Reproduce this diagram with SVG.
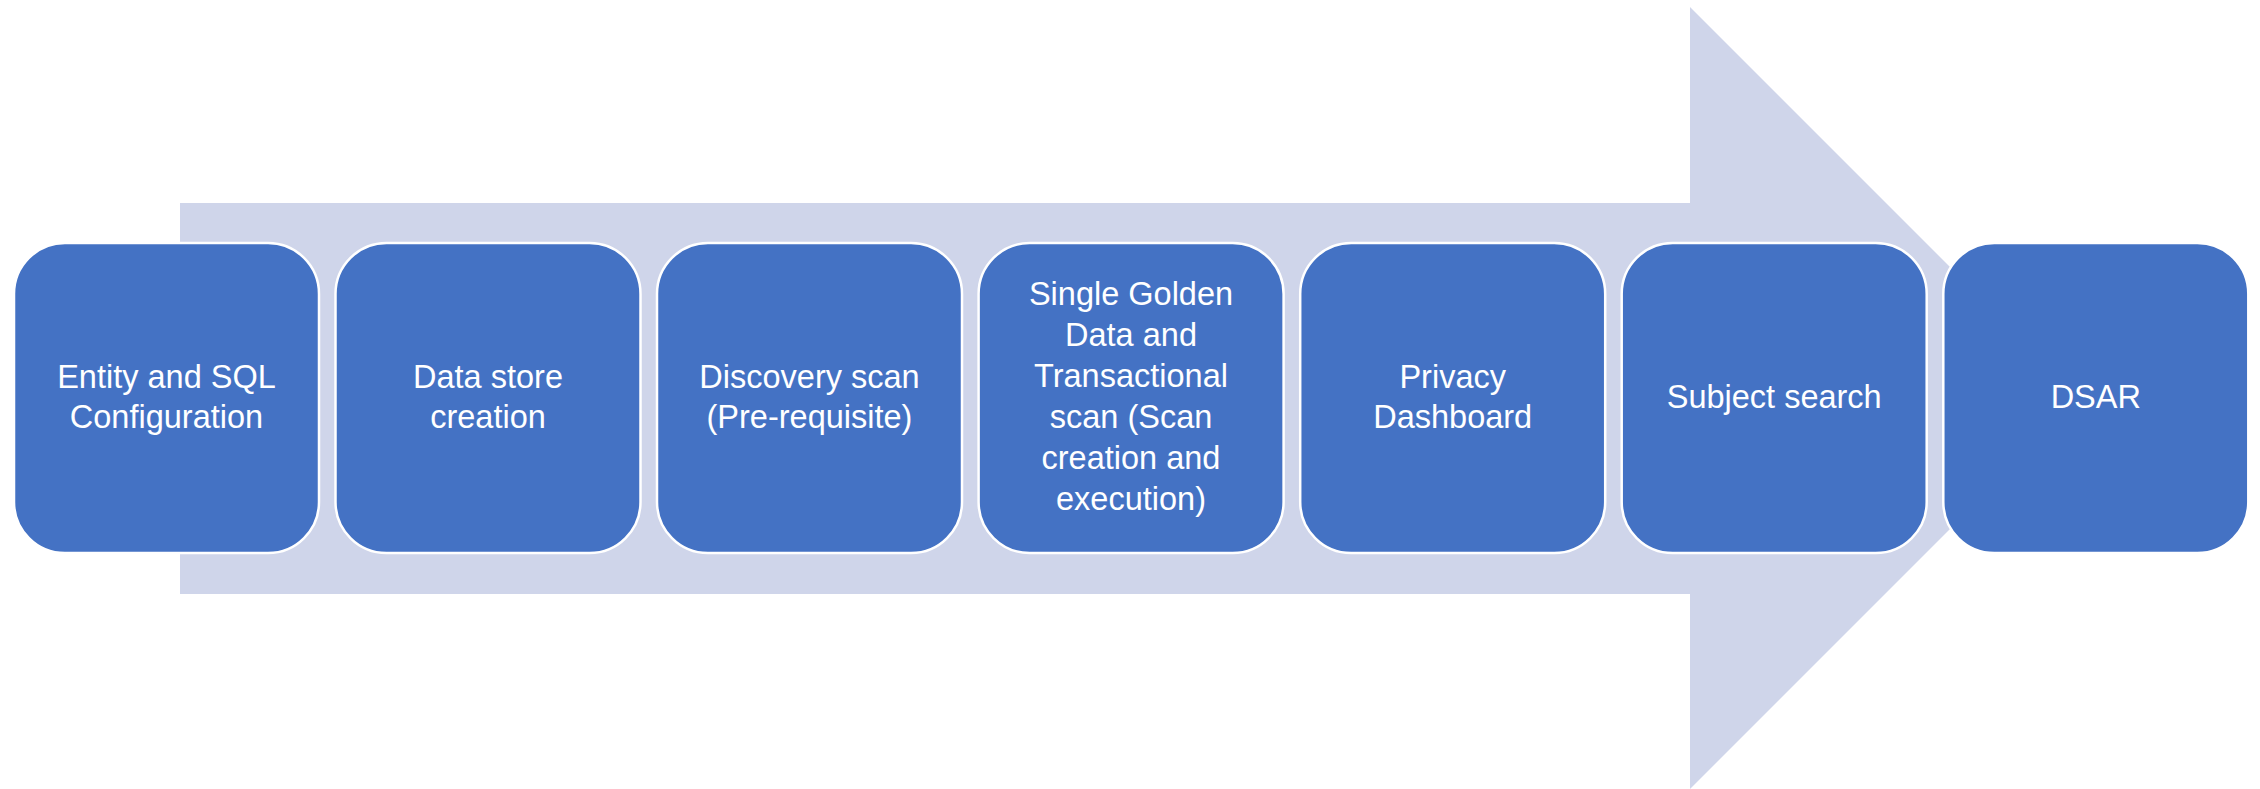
<svg xmlns="http://www.w3.org/2000/svg" width="2260" height="789" viewBox="0 0 2260 789">
<style>
.box{fill:#4472C4;stroke:#FFFFFF;stroke-width:2.5}
.lbl{fill:#FFFFFF;font-family:"Liberation Sans",Arial,sans-serif;font-size:32.5px;text-anchor:middle}
</style>
<rect width="2260" height="789" fill="#FFFFFF"/>
<g id="connectors">
<polygon points="180,203 1690,203 1690,7 2081,398 1690,789 1690,594 180,594" fill="#CFD5EA"/>
</g>
<g id="n1"><rect class="box" x="14" y="243" width="305" height="310" rx="51"/>
<text class="lbl"><tspan x="166.5" y="388">Entity and SQL</tspan><tspan x="166.5" y="428">Configuration</tspan></text></g>
<g id="n2"><rect class="box" x="335.5" y="243" width="305" height="310" rx="51"/>
<text class="lbl"><tspan x="488" y="388">Data store</tspan><tspan x="488" y="428">creation</tspan></text></g>
<g id="n3"><rect class="box" x="657" y="243" width="305" height="310" rx="51"/>
<text class="lbl"><tspan x="809.5" y="388">Discovery scan</tspan><tspan x="809.5" y="428">(Pre-requisite)</tspan></text></g>
<g id="n4"><rect class="box" x="978.6" y="243" width="305" height="310" rx="51"/>
<text class="lbl"><tspan x="1131" y="305">Single Golden</tspan><tspan x="1131" y="346">Data and</tspan><tspan x="1131" y="387">Transactional</tspan><tspan x="1131" y="428">scan (Scan</tspan><tspan x="1131" y="469">creation and</tspan><tspan x="1131" y="510">execution)</tspan></text></g>
<g id="n5"><rect class="box" x="1300.2" y="243" width="305" height="310" rx="51"/>
<text class="lbl"><tspan x="1452.7" y="388">Privacy</tspan><tspan x="1452.7" y="428">Dashboard</tspan></text></g>
<g id="n6"><rect class="box" x="1621.7" y="243" width="305" height="310" rx="51"/>
<text class="lbl" x="1774.2" y="408">Subject search</text></g>
<g id="n7"><rect class="box" x="1943.3" y="243" width="305" height="310" rx="51"/>
<text class="lbl" x="2095.8" y="408">DSAR</text></g>
</svg>
